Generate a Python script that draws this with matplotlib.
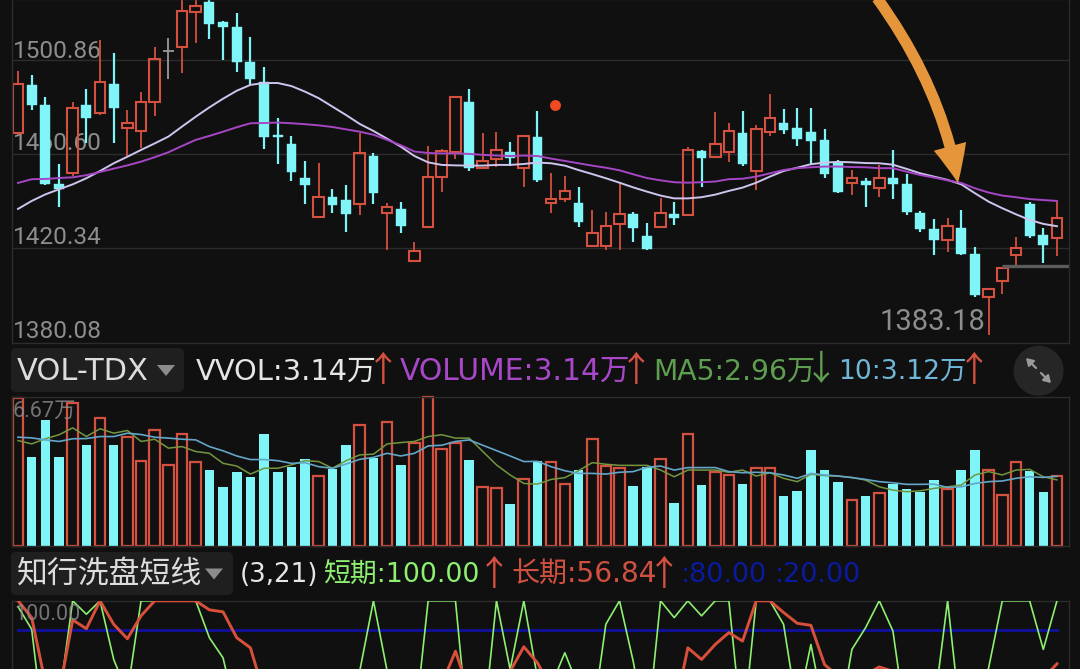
"""Recreate a candlestick / volume / oscillator phone screenshot."""
import matplotlib
matplotlib.use("Agg")
import matplotlib.pyplot as plt
import numpy as np
from matplotlib.patches import Circle, FancyArrowPatch, FancyBboxPatch, Polygon
from matplotlib.path import Path

W, H = 1080, 669
BG = "#101011"
RED = "#d4503f"
CYAN = "#7ff5f8"
GRID = "#2c2c2c"

kind = "RCCCRCRCRR" "RGRRCCCCCC" "CCRCCRCRCR" "RRRCRRCRCR" "RCRRRCCRCR" "CRRCRRCCCC" "CRCRCCCCRC" "CRRRCCR"

price_high = [
    1496.3, 1494.4, 1485.2, 1456.4, 1482.8, 1488.3, 1509.4, 1503.7, 1479.5, 1487.0,
    1506.6, 1510.1, 1527.9, 1527.2, 1527.2, 1517.7, 1521.1, 1510.5, 1498.0, 1475.9,
    1468.4, 1457.8, 1457.0, 1445.6, 1447.4, 1469.5, 1460.9, 1439.6, 1440.3, 1422.9,
    1464.2, 1462.8, 1485.2, 1488.3, 1469.8, 1470.2, 1465.9, 1468.8, 1479.1, 1452.7,
    1451.4, 1446.7, 1436.7, 1436.0, 1448.4, 1436.0, 1431.0, 1441.7, 1440.0, 1463.8,
    1462.4, 1478.5, 1473.8, 1479.1, 1473.1, 1486.3, 1479.8, 1480.2, 1480.2, 1471.2,
    1458.1, 1453.8, 1450.3, 1456.0, 1462.4, 1452.1, 1436.3, 1432.8, 1433.2, 1436.7,
    1421.1, 1403.0, 1412.5, 1425.1, 1440.3, 1428.9, 1440.6,
]
body_top = [
    1490.5, 1490.0, 1481.6, 1447.7, 1480.2, 1481.8, 1491.5, 1490.7, 1473.8, 1482.9,
    1501.1, 1504.8, 1521.9, 1523.7, 1525.8, 1517.0, 1514.8, 1499.9, 1491.6, 1468.8,
    1464.8, 1450.3, 1442.2, 1442.4, 1440.9, 1460.9, 1459.8, 1438.2, 1437.3, 1419.2,
    1451.0, 1462.0, 1484.9, 1482.8, 1457.7, 1462.2, 1461.7, 1468.2, 1467.8, 1441.6,
    1445.0, 1439.6, 1426.8, 1429.9, 1435.0, 1435.0, 1425.6, 1435.3, 1434.9, 1462.4,
    1461.8, 1465.0, 1470.5, 1469.8, 1471.2, 1476.1, 1473.8, 1471.6, 1470.2, 1466.7,
    1456.7, 1450.4, 1449.1, 1450.3, 1450.6, 1447.7, 1435.6, 1428.8, 1429.9, 1428.9,
    1417.9, 1402.8, 1412.0, 1420.6, 1439.3, 1425.9, 1433.2,
]
body_bottom = [
    1469.5, 1481.5, 1447.7, 1445.6, 1452.4, 1476.1, 1478.1, 1480.5, 1471.6, 1470.7,
    1482.8, 1504.6, 1506.6, 1521.5, 1516.1, 1515.1, 1499.9, 1492.7, 1467.8, 1468.1,
    1453.1, 1447.4, 1433.6, 1439.0, 1435.0, 1439.3, 1443.9, 1435.6, 1429.9, 1415.1,
    1429.6, 1450.7, 1461.7, 1454.8, 1454.6, 1458.4, 1458.8, 1454.8, 1449.6, 1439.6,
    1441.4, 1431.8, 1421.4, 1421.5, 1430.6, 1428.9, 1419.9, 1429.6, 1433.2, 1434.6,
    1459.1, 1459.3, 1461.7, 1456.3, 1453.4, 1470.2, 1470.9, 1467.1, 1466.4, 1452.0,
    1444.4, 1448.4, 1447.4, 1446.0, 1447.9, 1435.9, 1428.8, 1423.9, 1423.9, 1417.8,
    1400.4, 1399.7, 1406.4, 1417.5, 1425.6, 1421.8, 1424.9,
]
price_low = [
    1468.8, 1479.5, 1447.4, 1438.2, 1451.3, 1465.2, 1477.3, 1465.2, 1459.8, 1463.4,
    1476.9, 1492.7, 1495.4, 1508.0, 1509.7, 1500.9, 1495.6, 1490.2, 1462.8, 1456.4,
    1449.3, 1439.3, 1433.6, 1435.3, 1427.5, 1434.6, 1439.3, 1419.6, 1426.8, 1414.7,
    1429.6, 1444.6, 1458.4, 1453.4, 1454.6, 1455.3, 1455.5, 1446.7, 1448.6, 1435.3,
    1440.3, 1429.3, 1421.4, 1419.6, 1419.6, 1423.2, 1419.6, 1429.6, 1430.3, 1434.6,
    1446.4, 1458.8, 1457.4, 1455.7, 1445.3, 1468.5, 1469.2, 1464.2, 1456.0, 1450.6,
    1443.9, 1443.2, 1438.2, 1442.4, 1441.4, 1434.5, 1427.3, 1417.5, 1418.9, 1417.5,
    1399.4, 1383.18, 1400.8, 1412.8, 1424.9, 1414.2, 1417.1,
]
ma_light = [
    1437.2, 1440.6, 1443.4, 1445.6, 1447.7, 1450.3, 1453.4, 1456.7, 1459.5, 1462.4,
    1465.2, 1468.1, 1472.4, 1476.6, 1480.6, 1484.3, 1487.7, 1490.2, 1491.0, 1491.0,
    1489.7, 1487.3, 1484.5, 1480.9, 1477.3, 1473.5, 1470.5, 1467.2, 1463.8, 1459.8,
    1457.1, 1456.0, 1455.8, 1455.7, 1455.7, 1456.0, 1456.0, 1456.4, 1457.0, 1456.7,
    1455.7, 1453.8, 1452.1, 1450.3, 1448.4, 1446.4, 1444.6, 1442.9, 1441.7, 1441.7,
    1442.2, 1443.3, 1444.9, 1446.3, 1448.4, 1451.0, 1453.4, 1454.8, 1456.3, 1457.0,
    1457.3, 1457.1, 1456.8, 1456.7, 1456.1, 1454.3, 1452.4, 1451.0, 1449.6, 1447.7,
    1443.9, 1440.3, 1437.5, 1434.9, 1432.5, 1430.8, 1429.8,
]
ma_purple = [
    1448.3, 1449.9, 1450.0, 1450.4, 1450.7, 1451.6, 1453.0, 1454.4, 1455.8, 1457.4,
    1459.3, 1461.4, 1464.1, 1466.7, 1468.4, 1470.2, 1472.1, 1473.8, 1473.9, 1474.1,
    1473.8, 1473.4, 1472.9, 1472.2, 1471.2, 1470.2, 1468.9, 1466.7, 1464.4, 1461.7,
    1461.1, 1460.9, 1460.9, 1460.7, 1460.3, 1460.0, 1459.8, 1460.0, 1459.8, 1458.7,
    1457.7, 1456.7, 1455.7, 1454.8, 1453.7, 1452.0, 1450.4, 1449.4, 1448.6, 1448.4,
    1448.6, 1448.9, 1449.9, 1450.1, 1451.0, 1452.4, 1453.8, 1454.6, 1455.0, 1455.3,
    1455.3, 1455.1, 1455.0, 1454.6, 1454.6, 1453.1, 1451.7, 1450.6, 1449.4, 1448.3,
    1446.0, 1444.2, 1442.9, 1442.2, 1441.4, 1441.0, 1440.6,
]
volume = [
    6.62, 4.00, 5.64, 3.97, 6.40, 4.54, 5.74, 4.53, 4.86, 3.81,
    5.20, 3.63, 5.02, 3.78, 3.40, 2.62, 3.31, 3.07, 5.01, 3.30,
    3.55, 3.90, 3.13, 3.45, 4.54, 5.43, 3.93, 5.56, 3.63, 4.60,
    6.67, 4.35, 4.63, 3.84, 2.65, 2.61, 1.86, 3.00, 3.82, 3.76,
    2.77, 3.40, 4.81, 3.58, 3.49, 2.70, 3.52, 3.88, 1.93, 5.01,
    2.71, 3.31, 3.18, 2.79, 3.51, 3.48, 2.25, 2.44, 4.30, 3.39,
    2.88, 2.08, 2.26, 2.37, 2.77, 2.55, 2.40, 2.94, 2.55, 3.40,
    4.30, 3.39, 2.29, 3.78, 3.37, 2.43, 3.14,
]
vol_ma10 = [
    4.87, 4.84, 4.75, 4.68, 4.80, 4.81, 4.90, 4.90, 5.05, 4.99,
    4.87, 4.83, 4.78, 4.75, 4.45, 4.26, 4.03, 3.87, 3.87, 3.82,
    3.70, 3.73, 3.55, 3.48, 3.67, 3.88, 3.97, 4.15, 4.03, 4.15,
    4.48, 4.51, 4.68, 4.75, 4.51, 4.27, 4.03, 3.78, 3.79, 3.55,
    3.37, 3.25, 3.25, 3.22, 3.30, 3.33, 3.52, 3.58, 3.40, 3.51,
    3.51, 3.51, 3.33, 3.28, 3.30, 3.28, 3.18, 3.03, 3.25, 3.18,
    3.13, 3.06, 2.98, 2.88, 2.83, 2.76, 2.76, 2.77, 2.62, 2.65,
    2.80, 2.88, 2.91, 3.03, 3.10, 3.07, 3.12,
]
vol_ma5 = [
    4.72, 4.57, 4.80, 4.98, 5.29, 4.90, 5.25, 5.05, 5.17, 4.68,
    4.78, 4.38, 4.45, 4.23, 4.15, 3.70, 3.58, 3.22, 3.48, 3.48,
    3.63, 3.82, 3.78, 3.48, 3.82, 4.08, 4.11, 4.57, 4.63, 4.68,
    4.90, 4.98, 4.83, 4.83, 4.23, 3.63, 3.18, 2.80, 2.77, 2.98,
    3.06, 3.37, 3.73, 3.66, 3.61, 3.61, 3.61, 3.40, 3.10, 3.40,
    3.40, 3.40, 3.30, 3.40, 3.13, 3.28, 3.03, 2.88, 3.21, 3.15,
    3.13, 3.07, 2.95, 2.65, 2.50, 2.43, 2.47, 2.58, 2.65, 2.73,
    3.18, 3.33, 3.18, 3.40, 3.43, 3.10, 2.96,
]
osc_short = [
    96, 80.5, 2, 32, 100, 90.8, 100, 59.8, 36.8, 100,
    100, 100, 100, 100, 74.7, 60.9, 20.7, 15, 22, 30,
    18, 25, 35, 28, 30, 52, 100, 52, 30, 12.6,
    100, 100, 100, 2, 10, 100, 52.9, 100, 47, 42,
    64.4, 41, 16.8, 83.9, 100, 58.6, 8, 100, 88.5, 100,
    89.7, 100, 100, 8, 100, 100, 83.9, 24.8, 70.1, 22,
    13, 66.7, 81.6, 100, 79.3, 13, 5, 26.4, 100, 14,
    20, 54, 100, 100, 100, 66.7, 100,
]
osc_long = [
    100, 88.5, 43.7, 36.8, 86.9, 80.9, 100, 83.9, 74, 89.7,
    100, 100, 100, 100, 93.8, 92.4, 74.7, 67.8, 36.3, 30,
    28, 25, 30, 28, 30, 33, 35, 30, 28, 26,
    35, 43, 65.5, 37.5, 35, 40, 51.7, 68.5, 57.5, 40,
    30, 28, 25, 30, 33, 30, 28, 25, 23, 67.8,
    59.8, 70.1, 78.2, 72.4, 100, 100, 92, 84.6, 83.2, 56.3,
    48.3, 45, 49.4, 54.7, 51.7, 45, 40, 35, 35, 33,
    30, 30, 35, 38, 40, 47, 56.84,
]
price_ticks = [1500.86, 1460.60, 1420.34, 1380.08]
signal_x, signal_price = 39.3, 1481.6
support_price = 1412.8
osc_level = 80.0

axis_font = ["Roboto", "Noto Sans CJK SC", "DejaVu Sans"]
head_font = ["DejaVu Sans", "Noto Sans CJK SC"]
plt.rcParams["font.family"] = axis_font

fig = plt.figure(figsize=(W / 100, H / 100), dpi=100, facecolor=BG)


def screen_layer(order):
    # axes in screen pixels for the app chrome
    layer = fig.add_axes([0, 0, 1, 1], zorder=order)
    layer.set_xlim(0, W)
    layer.set_ylim(H, 0)
    layer.axis("off")
    layer.patch.set_alpha(0)
    return layer


def panel(top, bottom, left=12, right=1069):
    ax = fig.add_axes([left / W, 1 - bottom / H, (right - left) / W, (bottom - top) / H], zorder=2)
    ax.set_facecolor("none")
    for name in ax.spines:
        ax.spines[name].set_color(GRID)
        ax.spines[name].set_linewidth(1)
    ax.set_xticks([])
    ax.set_yticks([])
    ax.set_xlim(-0.44, 76.88)
    return ax


under = screen_layer(1)
ui = screen_layer(5)

x = np.arange(len(kind))
is_red = np.array([k == "R" for k in kind])
is_cyan = np.array([k == "C" for k in kind])
is_gray = np.array([k == "G" for k in kind])
high, low = np.array(price_high), np.array(price_low)
top, bottom = np.array(body_top), np.array(body_bottom)
vol = np.array(volume)

# price panel
ax = panel(-1, 343)
ax.set_ylim(1379.9, 1526.9)
for tick in price_ticks[:3]:
    ax.axhline(tick, color=GRID, lw=1, zorder=1)
for mask, color, width in [(is_red, RED, 1.3), (is_cyan, CYAN, 1.6), (is_gray, "#9a9a9a", 1.3)]:
    ax.vlines(x[mask], top[mask], high[mask], color=color, lw=width, zorder=2)
    ax.vlines(x[mask], low[mask], bottom[mask], color=color, lw=width, zorder=2)
ax.bar(x[is_red], (top - bottom)[is_red], bottom=bottom[is_red], width=0.78,
       facecolor="none", edgecolor=RED, lw=1.5, zorder=2)
ax.bar(x[is_cyan], (top - bottom)[is_cyan], bottom=bottom[is_cyan], width=0.72,
       facecolor=CYAN, edgecolor=CYAN, lw=0.3, zorder=2)
ax.hlines(top[is_gray], x[is_gray] - 0.42, x[is_gray] + 0.42, color="#9a9a9a", lw=1.3, zorder=2)
ax.plot(x, ma_light, color="#cfc4ee", lw=1.4, zorder=3)
ax.plot(x, ma_purple, color="#a646c4", lw=1.4, zorder=3)
ax.hlines(support_price, 72, 76.88, color="#5c5c5c", lw=2.4, zorder=2)
ax.scatter([signal_x], [signal_price], s=62, color="#f04a20", lw=0, zorder=4)

# volume panel
ax_vol = panel(397, 546)
ax_vol.set_ylim(0, 6.67)
vol_red = is_red | is_gray
ax_vol.bar(x[vol_red], vol[vol_red], width=0.78, facecolor="none", edgecolor=RED, lw=1.6,
           zorder=2, clip_on=False)
ax_vol.bar(x[is_cyan], vol[is_cyan], width=0.70, facecolor=CYAN, edgecolor=CYAN, lw=0, zorder=2)
ax_vol.plot(x, vol_ma5, color="#74963f", lw=1.1, zorder=3)
ax_vol.plot(x, vol_ma10, color="#64a6c8", lw=1.2, zorder=3)

# oscillator panel, the screenshot cuts it off at the bottom
ax_osc = panel(600.5, 670)
ax_osc.set_ylim(52.6, 100.2)
ax_osc.spines["bottom"].set_visible(False)
ax_osc.plot(x, [osc_level] * len(x), color="#10109c", lw=2, zorder=2)
ax_osc.plot(x, osc_short, color="#8df06e", lw=1.2, zorder=3)
ax_osc.plot(x, osc_long, color="#d8503a", lw=2.1, zorder=4)


def label(px, py, text, color, size, layer=ui, family=head_font, **kw):
    layer.text(px, py, text, color=color, fontsize=size, va="center", ha="left", family=family, **kw)


def arrow(px, color, py=371, text="↑"):
    ui.text(px, py, text, color=color, fontsize=25, va="center", ha="center",
            family=["Noto Sans CJK SC", "DejaVu Sans"], fontweight="light")


def dropdown(left, right, top_y, bottom_y, tri_x):
    under.add_patch(FancyBboxPatch((left + 5, top_y + 5), right - left - 10, bottom_y - top_y - 10,
                                   boxstyle="round,pad=5", fc="#1f1f20", ec="none", zorder=0))
    mid = (top_y + bottom_y) / 2
    ui.add_patch(Polygon([(tri_x, mid - 5), (tri_x + 18, mid - 5), (tri_x + 9, mid + 6)],
                         closed=True, fc="#8c8c8c", ec="none"))


gray = "#8d8d8d"
label(13, 51, "1500.86", gray, 17.6, layer=under, family=axis_font)
label(13, 144, "1460.60", gray, 17.6, layer=under, family=axis_font)
label(13, 238, "1420.34", gray, 17.6, layer=under, family=axis_font)
label(13, 332, "1380.08", gray, 17.6, layer=under, family=axis_font)
label(880, 322, "1383.18", gray, 21, family=axis_font)
label(13, 411, "6.67万", gray, 15.5, family=axis_font, alpha=0.8)
label(14, 615, "100.00", gray, 15.5, family=axis_font, alpha=0.8)

dropdown(11, 184, 348, 392, 157)
label(17, 371.5, "VOL-TDX", "#dddddd", 22)
label(196, 371.5, "VVOL:3.14万", "#e6e6e6", 20.8)
arrow(383, RED)
label(400, 371.5, "VOLUME:3.14万", "#a848c8", 21.4)
arrow(636, RED)
label(653, 371.5, "MA5:2.96万", "#5f9e50", 20.3)
arrow(821, "#5f9e50", text="↓")
label(838, 371.5, "10:3.12万", "#6fb6d8", 19.1)
arrow(974, RED)

ui.add_patch(Circle((1038.6, 370.7), 25, fc="#262627", ec="none"))
for (tx, ty), (hx, hy) in [((1036, 368), (1026, 358)), ((1041, 373), (1051, 383))]:
    ui.annotate("", xy=(hx, hy), xytext=(tx, ty),
                arrowprops=dict(arrowstyle="-|>,head_width=0.25,head_length=0.4", color="#9a9a9a", lw=1.6, shrinkA=0, shrinkB=0))

dropdown(11, 233, 552, 595, 205)
label(17, 574, "知行洗盘短线", "#dddddd", 22.2)
label(240, 574.5, "(3,21)", "#e6e6e6", 18.8)
label(323, 574.5, "短期:100.00", "#8ef070", 19.4)
arrow(494, RED, py=575)
label(511, 574.5, "长期:56.84", "#d05040", 20.2)
arrow(664, RED, py=575)
label(681, 574.5, ":80.00", "#0a1aa0", 19.5)
label(775, 574.5, ":20.00", "#0a1aa0", 19.5)

# hand-drawn orange arrow
curve = Path([(877, -2), (942, 88), (958, 183)], [Path.MOVETO, Path.CURVE3, Path.CURVE3])
ui.add_patch(FancyArrowPatch(path=curve, arrowstyle="simple,tail_width=8,head_width=24,head_length=27",
                             fc="#e6963a", ec="none", mutation_scale=1, zorder=6))

fig.savefig("out.png", dpi=100, facecolor=BG)
